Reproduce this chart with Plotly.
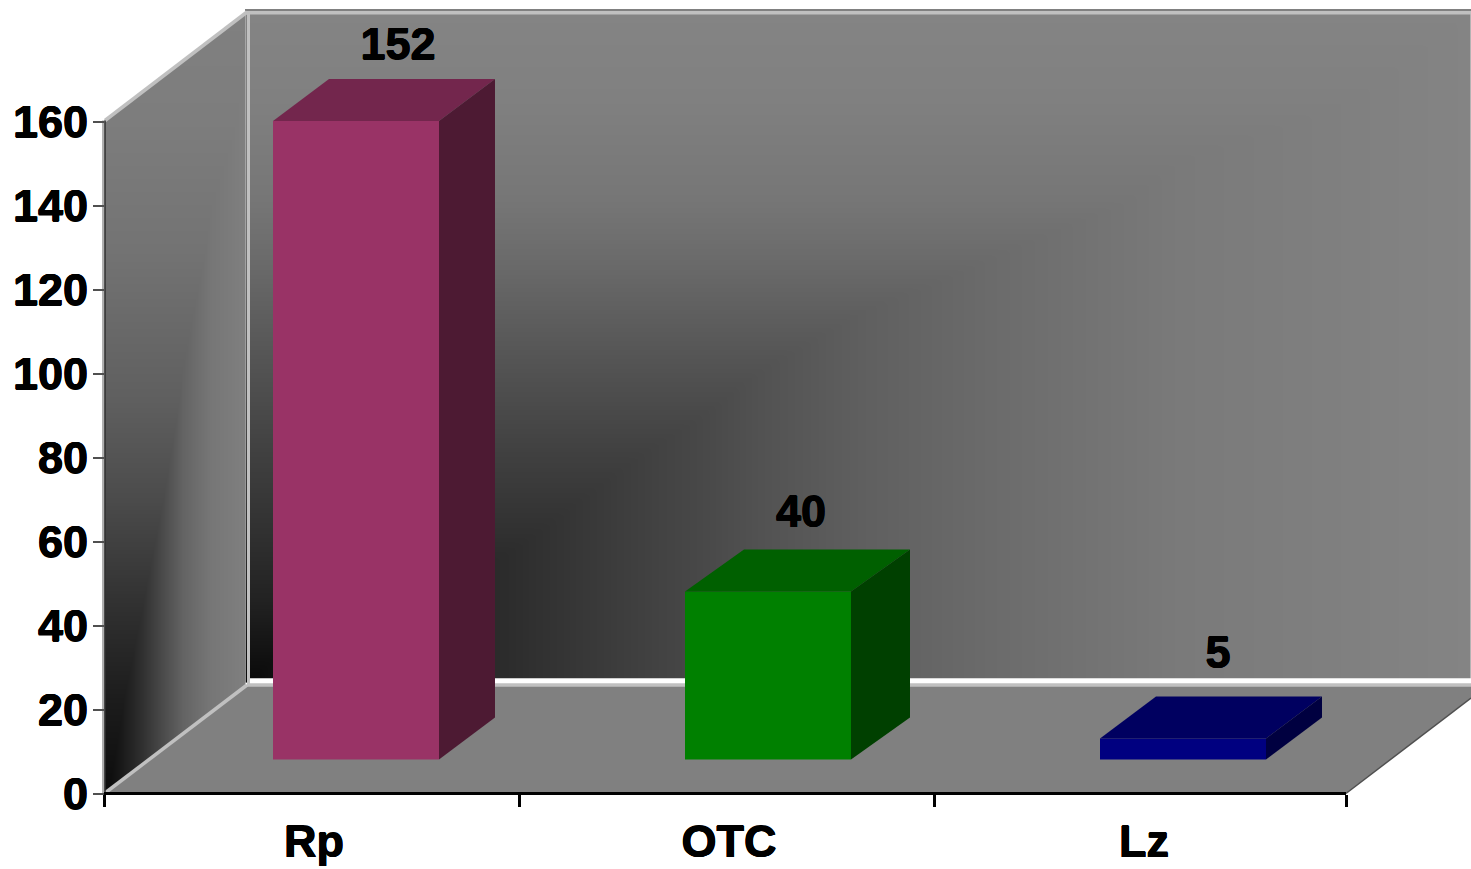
import numpy as np
import plotly.graph_objects as go

# Chart data
categories = ["Rp", "OTC", "Lz"]
values = [152, 40, 5]
value_ticks = [0, 20, 40, 60, 80, 100, 120, 140, 160]

front_colors = ["#993366", "#008000", "#000080"]
top_colors = ["#73264D", "#006000", "#000060"]
side_colors = ["#4D1A33", "#004000", "#000040"]

# Canvas and axis scale, in screen pixels
WIDTH, HEIGHT = 1471, 869
PX_PER_CAT, PX_PER_VAL = 415.0, 4.2
AXIS_LEFT, AXIS_BOTTOM = 104.0, 793.5
GRAY = "#808080"
LIGHT = "#C0C0C0"
FONT_FAMILY = "Liberation Sans"
FONT_SIZE = 45
TEXT_WEIGHT = "0.5px 0 0 #000000, -0.5px 0 0 #000000, 0 0.4px 0 #000000, 0 -0.4px 0 #000000"


def cx(px):
    """Screen x to category-axis position."""
    return -0.5 + (px - AXIS_LEFT) / PX_PER_CAT


def vy(py):
    """Screen y to value-axis position."""
    return (AXIS_BOTTOM - py) / PX_PER_VAL


x_range = [cx(0), cx(WIDTH)]
y_range = [vy(HEIGHT), vy(0)]

# Brightness stops of the shaded walls: each wall takes the lighter of a
# horizontal and a vertical ramp.
back_x_px = [247, 300, 505, 640, 700, 760, 860, 990, 1180, 1471]
back_x_lum = [8, 25, 44, 64, 72, 82, 95, 107, 122, 132]
back_y_px = [12, 100, 200, 268, 357, 450, 536, 600, 680]
back_y_lum = [132, 128, 118, 105, 85, 65, 48, 34, 10]
side_x_px = [105, 120, 143, 165, 183, 210, 247]
side_x_lum = [10, 25, 50, 78, 100, 118, 128]
side_y_px = [12, 120, 250, 400, 500, 600, 700, 793]
side_y_lum = [128, 125, 115, 95, 75, 50, 28, 12]


def wall(x0, x1, y0, y1, xp, xl, yp, yl):
    xs = np.linspace(x0, x1, 140)
    ys = np.linspace(y0, y1, 140)
    z = np.maximum.outer(np.interp(ys, yp, yl), np.interp(xs, xp, xl))
    return go.Heatmap(
        x=cx(xs), y=vy(ys), z=z, zmin=0, zmax=255, zsmooth="best",
        colorscale=[[0, "#000000"], [1, "#FFFFFF"]], showscale=False,
        hoverinfo="skip",
    )


def poly(px, py, color):
    return go.Scatter(
        x=[cx(p) for p in px], y=[vy(p) for p in py], mode="none",
        fill="toself", fillcolor=color, hoverinfo="skip",
    )


def edge(px, py, color, width):
    return go.Scatter(
        x=[cx(p) for p in px], y=[vy(p) for p in py], mode="lines",
        line=dict(color=color, width=width), hoverinfo="skip",
    )


fig = go.Figure()

# Back wall, then the side wall laid over its left edge
fig.add_trace(wall(250, WIDTH, 14, 680, back_x_px, back_x_lum, back_y_px, back_y_lum))
fig.add_trace(wall(105, 245.2, 12, 793, side_x_px, side_x_lum, side_y_px, side_y_lum))
fig.add_trace(poly([104, 247, 247, 104], [120.5, 12, 0, 0], "#FFFFFF"))
fig.add_trace(poly([100, 252, 252, 100], [794, 794, 806, 806], "#FFFFFF"))

# Floor and frame lines
fig.add_trace(poly([104, 247, WIDTH, WIDTH, 1346],
                   [793.5, 685, 685, 698, 793.5], GRAY))
fig.add_trace(edge([1346, WIDTH], [793.5, 698], "#505050", 1.5))
fig.add_trace(edge([245, WIDTH], [10, 10], GRAY, 2))
fig.add_trace(edge([246, WIDTH], [12.8, 12.8], LIGHT, 3.5))
fig.add_trace(edge([105, 247], [120.5, 12], LIGHT, 3.5))
fig.add_trace(edge([248.5, 248.5], [12, 685], LIGHT, 3))
fig.add_trace(edge([250, WIDTH], [680.7, 680.7], "#FFFFFF", 5))
fig.add_trace(edge([247, WIDTH], [685, 685], LIGHT, 3.5))
fig.add_trace(edge([105, 247], [793, 685], LIGHT, 3.5))
fig.add_trace(edge([103, 103], [120.5, 794], "#B0B0B0", 2))
fig.add_trace(edge([105, 105], [120.5, 794], "#303030", 1.5))

# Bars: front faces use the value axis, top and side faces are offset copies
BAR_BASE = 8.1
BAR_WIDTH = 166 / PX_PER_CAT
DEPTH_Y = 42 / PX_PER_VAL
bar_centres = [0 + 44.5 / PX_PER_CAT, 1 + 41.5 / PX_PER_CAT, 2 + 41.5 / PX_PER_CAT]
bar_depths = [56 / PX_PER_CAT, 59 / PX_PER_CAT, 56 / PX_PER_CAT]

fig.add_trace(go.Bar(
    x=bar_centres, y=values, base=BAR_BASE, width=BAR_WIDTH,
    marker=dict(color=front_colors, line=dict(width=0)),
    xaxis="x2", yaxis="y2", hoverinfo="skip",
))

for i, v in enumerate(values):
    left = bar_centres[i] - BAR_WIDTH / 2
    right = bar_centres[i] + BAR_WIDTH / 2
    d = bar_depths[i]
    top = BAR_BASE + v
    fig.add_trace(go.Scatter(
        x=[left, right, right + d, left + d], y=[top, top, top + DEPTH_Y, top + DEPTH_Y],
        mode="none", fill="toself", fillcolor=top_colors[i],
        xaxis="x2", yaxis="y2", hoverinfo="skip",
    ))
    fig.add_trace(go.Scatter(
        x=[right, right + d, right + d, right],
        y=[BAR_BASE, BAR_BASE + DEPTH_Y, top + DEPTH_Y, top],
        mode="none", fill="toself", fillcolor=side_colors[i],
        xaxis="x2", yaxis="y2", hoverinfo="skip",
    ))

# Value labels sit above the bar tops
text_font = dict(family=FONT_FAMILY, size=FONT_SIZE, color="#000000",
                 weight="bold", shadow=TEXT_WEIGHT)
label_dx = [42 / PX_PER_CAT, 33 / PX_PER_CAT, 35 / PX_PER_CAT]
label_dy = [73 / PX_PER_VAL, 76 / PX_PER_VAL, 82 / PX_PER_VAL]
fig.add_trace(go.Scatter(
    x=[c + dx for c, dx in zip(bar_centres, label_dx)],
    y=[BAR_BASE + v + dy for v, dy in zip(values, label_dy)],
    text=[str(v) for v in values], mode="text", textposition="middle center",
    textfont=text_font, xaxis="x2", yaxis="y2", hoverinfo="skip",
))

# Category axis baseline
fig.add_trace(go.Scatter(
    x=[cx(AXIS_LEFT), cx(1346)], y=[0, 0], mode="lines",
    line=dict(color="#000000", width=3.2), xaxis="x2", yaxis="y2", hoverinfo="skip",
))

fig.update_layout(
    width=WIDTH, height=HEIGHT, autosize=False,
    margin=dict(l=0, r=0, t=0, b=0),
    paper_bgcolor="#FFFFFF", plot_bgcolor="rgba(0,0,0,0)",
    showlegend=False, hovermode=False,
    xaxis=dict(range=x_range, domain=[0, 1], visible=False, fixedrange=True),
    yaxis=dict(range=y_range, domain=[0, 1], visible=False, fixedrange=True),
    xaxis2=dict(
        range=x_range, domain=[0, 1], overlaying="x", anchor="free",
        position=(HEIGHT - AXIS_BOTTOM) / HEIGHT, side="bottom",
        showgrid=False, zeroline=False, showline=False, fixedrange=True,
        tickmode="array", tickvals=[i + 2.5 / PX_PER_CAT for i in range(3)],
        ticktext=categories, ticks="", tickfont=text_font, ticklabelstandoff=17,
        minor=dict(tickmode="array", tickvals=[-0.5, 0.5, 1.5, cx(1346)],
                   ticks="outside", ticklen=12, tickwidth=3, tickcolor="#000000"),
    ),
    yaxis2=dict(
        range=y_range, domain=[0, 1], overlaying="y", anchor="free",
        position=AXIS_LEFT / WIDTH, side="left",
        showgrid=False, zeroline=False, showline=False, fixedrange=True,
        tickmode="array", tickvals=value_ticks, ticks="outside", ticklen=11,
        tickwidth=1.5, tickcolor="#505050", tickfont=text_font, ticklabelstandoff=-4,
    ),
)

fig.write_html("out.html", config=dict(displayModeBar=False))
